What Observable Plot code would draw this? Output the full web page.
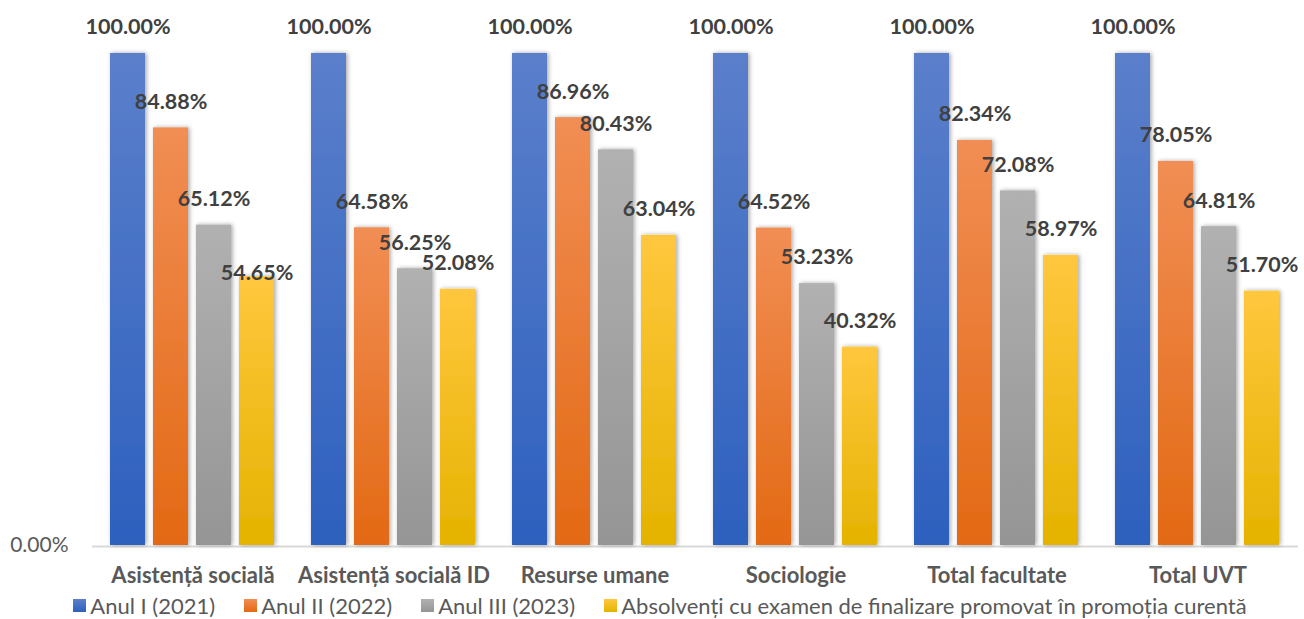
<!DOCTYPE html>
<html>
<head>
<meta charset="utf-8">
<script src="https://cdn.jsdelivr.net/npm/d3@7"></script>
<script src="https://cdn.jsdelivr.net/npm/@observablehq/plot@0.6"></script>
<style>
  html, body { margin: 0; padding: 0; background: #fff; }
  #chart { width: 1304px; }
  .legend { display: flex; justify-content: center; align-items: center; gap: 29px;
    font-family: Lato, "Open Sans", sans-serif; font-size: 22px; color: #595959; height: 29px;
    line-height: 22px; padding-left: 16px; padding-top: 2px; box-sizing: border-box; width: 1304px; white-space: nowrap; }
  .legend span.item { display: inline-flex; align-items: center; gap: 4px; }
  .legend i { display: inline-block; width: 13px; height: 13px; }
</style>
</head>
<body>
<div id="chart"></div>
<script>
const categories = ["Asistență socială", "Asistență socială ID", "Resurse umane", "Sociologie", "Total facultate", "Total UVT"];
const seriesNames = ["Anul I (2021)", "Anul II (2022)", "Anul III (2023)", "Absolvenți cu examen de finalizare promovat în promoția curentă"];
const anulI   = [1.0000, 1.0000, 1.0000, 1.0000, 1.0000, 1.0000];
const anulII  = [0.8488, 0.6458, 0.8696, 0.6452, 0.8234, 0.7805];
const anulIII = [0.6512, 0.5625, 0.8043, 0.5323, 0.7208, 0.6481];
const absolv  = [0.5465, 0.5208, 0.6304, 0.4032, 0.5897, 0.5170];
const gradTop    = ["#5b7fcb", "#f18e54", "#b1b1b1", "#ffc73e"];
const gradBottom = ["#2d60be", "#e36914", "#959595", "#e4b300"];

const seriesValues = [anulI, anulII, anulIII, absolv];
const data = [];
categories.forEach((c, i) => seriesValues.forEach((vals, s) => {
  data.push({category: c, series: seriesNames[s], s, value: vals[i]});
}));

const defs = () => {
  const d = d3.create("svg:defs");
  gradTop.forEach((t, i) => {
    const g = d.append("linearGradient").attr("id", "grad" + i).attr("x1", 0).attr("y1", 0).attr("x2", 0).attr("y2", 1);
    g.append("stop").attr("offset", "0%").attr("stop-color", t);
    g.append("stop").attr("offset", "100%").attr("stop-color", gradBottom[i]);
  });
  const f = d.append("filter").attr("id", "shadow").attr("x", "-30%").attr("y", "-10%").attr("width", "160%").attr("height", "120%");
  f.append("feDropShadow").attr("dx", 1.5).attr("dy", 0).attr("stdDeviation", 2.2)
    .attr("flood-color", "#000").attr("flood-opacity", 0.35);
  return d.node();
};

const labelFont = "Lato, 'Open Sans', sans-serif";
const pct = d3.format(".2%");
const isShifted = d => d.category === categories[0] && d.s === 3;

const plot = Plot.plot({
  width: 1304,
  height: 590,
  marginTop: 53,
  marginBottom: 45,
  marginLeft: 92,
  marginRight: 6,
  style: {fontFamily: labelFont, background: "#fff"},
  fx: {domain: categories, padding: 0, label: null},
  x: {domain: seriesNames, paddingInner: 0.176, paddingOuter: 0.39, axis: null},
  y: {domain: [0, 1], axis: null},
  marks: [
    defs,
    Plot.ruleY([0], {stroke: "#d9d9d9", strokeWidth: 2, dy: 1}),
    Plot.barY(data, {
      fx: "category", x: "series", y: "value",
      fill: d => `url(#grad${d.s})`,
      render: (index, scales, values, dims, ctx, next) => {
        const g = next(index, scales, values, dims, ctx);
        g.setAttribute("filter", "url(#shadow)");
        return g;
      }
    }),
    Plot.text(data.filter(d => !isShifted(d)), {
      fx: "category", x: "series", y: "value", text: d => pct(d.value),
      dy: -26, fontSize: 21.5, fontWeight: "bold", fill: "#404040", fontFamily: labelFont
    }),
    Plot.text(data.filter(isShifted), {
      fx: "category", x: "series", y: "value", text: d => pct(d.value),
      dy: -4, fontSize: 21.5, fontWeight: "bold", fill: "#404040", fontFamily: labelFont
    }),
    Plot.axisFx({anchor: "bottom", tickSize: 0, tickPadding: 22, fontSize: 22, fontWeight: "bold",
      color: "#595959", label: null}),
    Plot.axisY({ticks: [0], tickFormat: pct, tickSize: 0, tickPadding: 24,
      fontSize: 21, color: "#595959", label: null, anchor: "left", facetAnchor: "left"})
  ]
});

document.getElementById("chart").appendChild(plot);

const legend = d3.select("body").append("div").attr("class", "legend");
seriesNames.forEach((n, i) => {
  const it = legend.append("span").attr("class", "item");
  it.append("i").style("background", `linear-gradient(${gradTop[i]}, ${gradBottom[i]})`);
  it.append("span").text(n);
});
</script>
</body>
</html>
